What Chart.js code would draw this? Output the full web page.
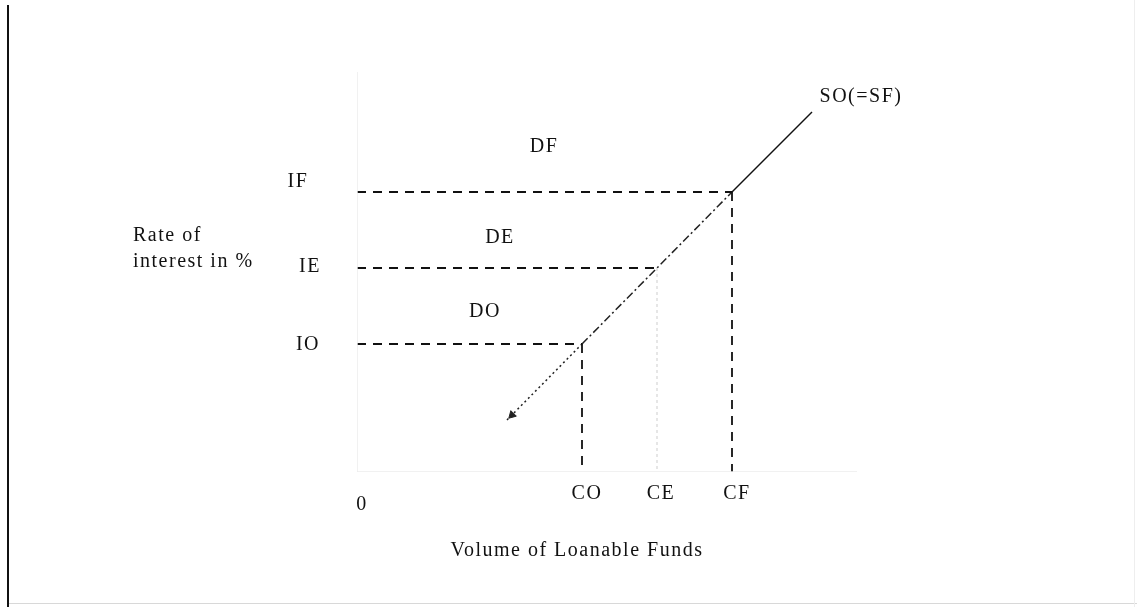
<!DOCTYPE html>
<html>
<head>
<meta charset="utf-8">
<script src="https://cdn.jsdelivr.net/npm/chart.js@4/dist/chart.umd.min.js"></script>
<style>
  html, body { margin: 0; padding: 0; background: #fff; }
  #wrap { position: relative; width: 1137px; height: 607px; overflow: hidden; }
  #c { position: absolute; left: 0; top: 0; }
  #lline { position: absolute; left: 7px; top: 5px; width: 2px; height: 602px; background: #111; }
  #bline { position: absolute; left: 9px; top: 603px; width: 1128px; height: 1px; background: #d8d8d8; }
  #rline { position: absolute; left: 1134px; top: 0; width: 1px; height: 607px; background: #eee; }
</style>
</head>
<body>
<div id="wrap">
  <canvas id="c" width="1137" height="607"></canvas>
  <div id="lline"></div>
  <div id="bline"></div>
  <div id="rline"></div>
</div>
<script>
// Volume of loanable funds (x) and rate of interest (y), arbitrary units
const volumeLevels = [45, 60, 75];          // CO, CE, CF
const volumeLabels = ["CO", "CE", "CF"];
const rateLevels = [32, 51, 70];            // IO, IE, IF
const rateLabels = ["IO", "IE", "IF"];
const demandLabels = ["DO", "DE", "DF"];
// Supply curve SO(=SF)
const supplyLowX = [30, 45];  const supplyLowY = [13, 32];
const supplyMidX = [45, 60, 75]; const supplyMidY = [32, 51, 70];
const supplyTopX = [75, 91];  const supplyTopY = [70, 90];
const axisMaxX = 100, axisMaxY = 102;

function pts(xs, ys) { return xs.map((x, i) => ({ x: x, y: ys[i] })); }

const datasets = [];
// faint axes
datasets.push({ data: [{x:0,y:0},{x:0,y:axisMaxY}], borderColor: '#ececec', borderWidth: 1.5, pointRadius: 0 });
datasets.push({ data: [{x:0,y:0},{x:axisMaxX,y:0}], borderColor: '#ececec', borderWidth: 1.5, pointRadius: 0 });
// horizontal dashed lines from y axis to supply curve
rateLevels.forEach((r, i) => {
  datasets.push({ data: [{x:0,y:r},{x:volumeLevels[i],y:r}], borderColor: '#111', borderWidth: 1.8, borderDash: [9, 7], pointRadius: 0 });
});
// vertical dashed lines down to x axis
volumeLevels.forEach((v, i) => {
  const faint = i === 1;
  datasets.push({ data: [{x:v,y:rateLevels[i]},{x:v,y:-1}], borderColor: faint ? '#dedede' : '#111', borderWidth: faint ? 1.5 : 1.8, borderDash: faint ? [3, 3] : [9, 7], pointRadius: 0 });
});
// supply curve segments
datasets.push({ data: pts(supplyLowX, supplyLowY), borderColor: '#222', borderWidth: 1.5, borderDash: [2, 3], pointRadius: 0 });
datasets.push({ data: pts(supplyMidX, supplyMidY), borderColor: '#222', borderWidth: 1.5, borderDash: [8, 3, 2, 3], pointRadius: 0 });
datasets.push({ data: pts(supplyTopX, supplyTopY), borderColor: '#111', borderWidth: 1.5, pointRadius: 0 });
// arrow head at lower end
datasets.push({ data: [{x: supplyLowX[0] + 1, y: supplyLowY[0] + 1.25}], showLine: false, pointStyle: 'triangle', pointRadius: 4.5, rotation: 225, backgroundColor: '#222', borderColor: '#222', borderWidth: 1 });

// text annotations (data coords)
const notes = [
  { t: "SO(=SF)", x: 100.8, y: 93.7, a: 'center' },
  { t: demandLabels[2], x: 37.4, y: 81.3, a: 'center' },
  { t: demandLabels[1], x: 28.6, y: 58.5, a: 'center' },
  { t: demandLabels[0], x: 25.6, y: 40, a: 'center' },
  { t: rateLabels[2], x: -11.8, y: 72.5, a: 'center' },
  { t: rateLabels[1], x: -9.4, y: 51.2, a: 'center' },
  { t: rateLabels[0], x: -9.8, y: 31.8, a: 'center' },
  { t: "0", x: 1, y: -8.3, a: 'center' },
  { t: volumeLabels[0], x: 46, y: -5.5, a: 'center' },
  { t: volumeLabels[1], x: 60.8, y: -5.5, a: 'center' },
  { t: volumeLabels[2], x: 76, y: -5.5, a: 'center' },
  { t: "Rate of", x: -44.8, y: 59, a: 'left' },
  { t: "interest in %", x: -44.8, y: 52.5, a: 'left' },
  { t: "Volume of Loanable Funds", x: 44, y: -19.8, a: 'center' }
];

const textPlugin = {
  id: 'notes',
  afterDatasetsDraw(chart) {
    const ctx = chart.ctx, xs = chart.scales.x, ys = chart.scales.y;
    ctx.save();
    ctx.fillStyle = '#111';
    ctx.font = '20px "Liberation Serif", "Times New Roman", serif';
    if ('letterSpacing' in ctx) ctx.letterSpacing = '1.5px';
    ctx.textBaseline = 'middle';
    notes.forEach(n => {
      ctx.textAlign = n.a;
      ctx.fillText(n.t, xs.getPixelForValue(n.x), ys.getPixelForValue(n.y));
    });
    ctx.restore();
  }
};

new Chart(document.getElementById('c'), {
  type: 'scatter',
  data: { datasets: datasets },
  options: {
    responsive: false,
    animation: false,
    showLine: true,
    layout: { padding: { left: 357, right: 280, top: 72, bottom: 135 } },
    scales: {
      x: { type: 'linear', min: 0, max: axisMaxX, display: false },
      y: { type: 'linear', min: 0, max: 100, display: false }
    },
    plugins: { legend: { display: false }, tooltip: { enabled: false } },
    elements: { line: { tension: 0 } }
  },
  plugins: [textPlugin]
});
</script>
</body>
</html>
